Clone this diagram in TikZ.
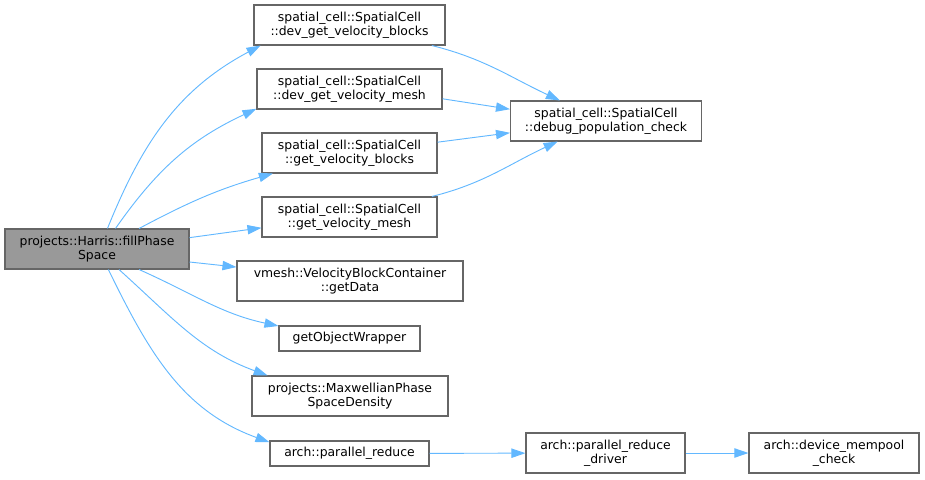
\documentclass[tikz,border=0pt]{standalone}
\usepackage{fontspec}
\setmainfont{DejaVu Sans}
\usepackage{tikz}
\usetikzlibrary{arrows.meta}

\definecolor{edgeblue}{HTML}{63B8FF}
\definecolor{boxgrey}{HTML}{666666}
\definecolor{rootfill}{HTML}{999999}

\tikzset{
    fn/.style   = {draw=boxgrey, fill=white, line width=0.8pt, inner sep=0pt, align=center,
                   font=\fontsize{9.3}{10.6}\selectfont, minimum height=30pt},
    fnroot/.style = {fn, fill=rootfill},
    call/.style = {edgeblue, line width=0.7pt, ->},
    >={Triangle[length=10.5pt, width=7pt]}
}

\begin{document}
\begin{tikzpicture}[x=0.75pt, y=-0.75pt]
            \useasboundingbox   (0,0) rectangle (925,479);
            \node   [fnroot, minimum width=138pt]       (root)   at (97,249)    {projects::Harris::fillPhase\\Space};
            \node   [fn, minimum width=143.25pt]        (dgvb)   at (349.5,25)  {spatial\_cell::SpatialCell\\::dev\_get\_velocity\_blocks};
            \node   [fn, minimum width=138.75pt]        (dgvm)   at (349.5,89)  {spatial\_cell::SpatialCell\\::dev\_get\_velocity\_mesh};
            \node   [fn, minimum width=131.25pt]        (gvb)    at (349.5,153) {spatial\_cell::SpatialCell\\::get\_velocity\_blocks};
            \node   [fn, minimum width=131.25pt]        (gvm)    at (349.5,217) {spatial\_cell::SpatialCell\\::get\_velocity\_mesh};
            \node   [fn, minimum width=143.25pt]        (debug)  at (606,121)   {spatial\_cell::SpatialCell\\::debug\_population\_check};
            \node   [fn, minimum width=169.5pt]         (data)   at (350,281)   {vmesh::VelocityBlockContainer\\::getData};
            \node   [fn, minimum width=105.75pt, minimum height=18.75pt] (wrap) at (349.5,338.5) {getObjectWrapper};
            \node   [fn, minimum width=147pt]           (maxw)   at (350,396)   {projects::MaxwellianPhase\\SpaceDensity};
            \node   [fn, minimum width=119.25pt, minimum height=18.75pt] (pred) at (349.5,453.5) {arch::parallel\_reduce};
            \node   [fn, minimum width=119.25pt]        (driver) at (605.5,453) {arch::parallel\_reduce\\\_driver};
            \node   [fn, minimum width=127.5pt]         (mempool) at (834,453)  {arch::device\_mempool\\\_check};

            \draw   [call]  (root.63)   to[out=68, in=208]  (dgvb.193);     % root to dev blocks
            \draw   [call]  (root.48)   to[out=55, in=205]  (dgvm.192);     % root to dev mesh
            \draw   [call]  (root.26)   to[out=28, in=196]  (gvb.195);      % root to blocks
            \draw   [call]  (root.7.4)  --                  (gvm.187.8);    % root to mesh
            \draw   [call]  (root.-8)   --                  (data.173.4);   % root to getData
            \draw   [call]  (root.-26.6) to[out=-24, in=168] (wrap.170.6);  % root to wrapper
            \draw   [call]  (root.-43.6) to[out=-42, in=160] (maxw.166);    % root to maxwellian
            \draw   [call]  (root.-61)  to[out=-64, in=160] (pred.172);     % root to reduce

            \draw   [call]  (dgvb.-14.5) to[out=-14, in=155] (debug.156.5); % dev blocks to check
            \draw   [call]  (dgvm.-6.8) --                  (debug.173.4);  % dev mesh to check
            \draw   [call]  (gvb.7.2)   --                  (debug.187.2);  % blocks to check
            \draw   [call]  (gvm.14.5)  to[out=14, in=205]  (debug.203.5);  % mesh to check

            \draw   [call]  (pred)      --                  (driver);       % reduce to driver
            \draw   [call]  (driver)    --                  (mempool);      % driver to mempool
\end{tikzpicture}
\end{document}
